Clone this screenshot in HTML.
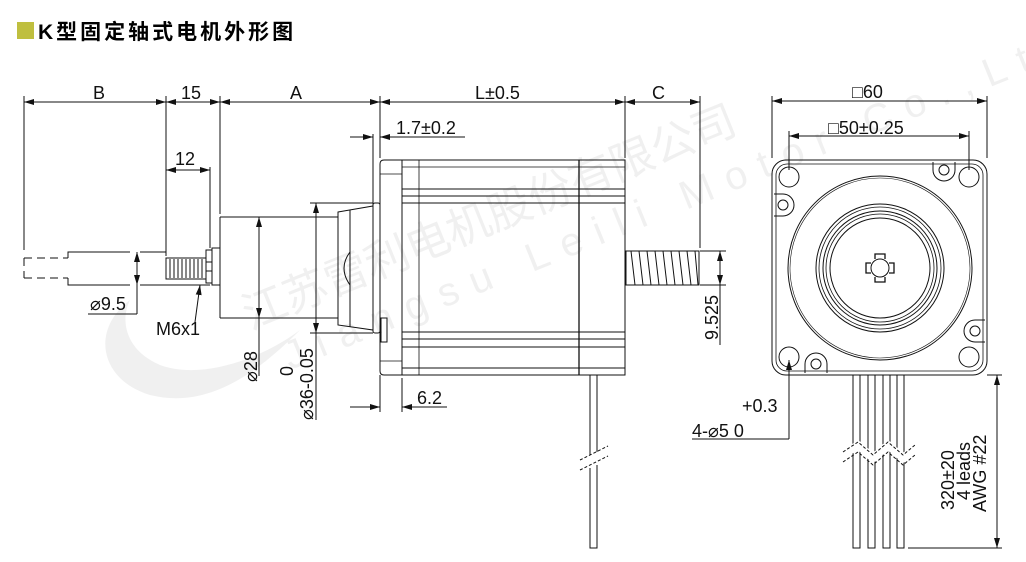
<!DOCTYPE html>
<html><head><meta charset="utf-8"><style>
html,body{margin:0;padding:0;background:#fff;}
svg{display:block;}
text{font-family:"Liberation Sans","Noto Sans CJK SC",sans-serif;fill:#111;}
</style></head><body>
<svg width="1026" height="562" viewBox="0 0 1026 562" xmlns="http://www.w3.org/2000/svg">
<defs>
<marker id="a" viewBox="0 0 10 6" refX="10" refY="3" markerWidth="10" markerHeight="6" markerUnits="userSpaceOnUse" orient="auto-start-reverse"><path d="M0,0L10,3L0,6z" fill="#111"/></marker>
</defs>
<!-- watermark -->
<g opacity="0.09">
<path d="M130,300 C90,330 100,380 150,395 C210,410 260,370 300,330 C260,360 200,380 160,365 C125,350 120,320 130,300z" fill="#555"/>
<text x="250" y="330" font-size="44" transform="rotate(-22 250 330)" style="fill:#555">江苏雷利电机股份有限公司</text>
<text x="290" y="370" font-size="40" letter-spacing="14" transform="rotate(-22 290 370)" style="fill:#555">Jiangsu Leili Motor Co.,Ltd</text>
</g>
<!-- title -->
<rect x="17" y="22" width="17" height="17" fill="#bfbf3f"/>
<text x="38" y="39" font-size="21" font-weight="bold" letter-spacing="3" style="fill:#000">K型固定轴式电机外形图</text>

<g stroke="#111" stroke-width="1" fill="none">
<line x1="24" y1="96" x2="24" y2="250"/>
<line x1="166" y1="96" x2="166" y2="256"/>
<line x1="220" y1="96" x2="220" y2="214"/>
<line x1="380" y1="96" x2="380" y2="158"/>
<line x1="625" y1="96" x2="625" y2="158"/>
<line x1="700" y1="96" x2="700" y2="248"/>
<line x1="210" y1="167" x2="210" y2="248"/>
<line x1="24" y1="102" x2="700" y2="102"/>
<line x1="24" y1="102" x2="166" y2="102" marker-start="url(#a)" marker-end="url(#a)"/>
<line x1="166" y1="102" x2="220" y2="102" marker-start="url(#a)" marker-end="url(#a)"/>
<line x1="220" y1="102" x2="380" y2="102" marker-start="url(#a)" marker-end="url(#a)"/>
<line x1="380" y1="102" x2="625" y2="102" marker-start="url(#a)" marker-end="url(#a)"/>
<line x1="625" y1="102" x2="700" y2="102" marker-start="url(#a)" marker-end="url(#a)"/>
<line x1="166" y1="170" x2="210" y2="170" marker-start="url(#a)" marker-end="url(#a)"/>
<line x1="373" y1="134" x2="373" y2="205"/>
<line x1="350" y1="137" x2="373" y2="137" marker-end="url(#a)"/>
<line x1="405" y1="137" x2="380" y2="137" marker-end="url(#a)"/>
<line x1="380" y1="137" x2="465" y2="137"/>
<line x1="380" y1="375" x2="380" y2="412"/>
<line x1="402" y1="378" x2="402" y2="412"/>
<line x1="350" y1="407" x2="380" y2="407" marker-end="url(#a)"/>
<line x1="430" y1="407" x2="402" y2="407" marker-end="url(#a)"/>
<line x1="402" y1="407" x2="447" y2="407"/>

<path d="M24,258 H68 M24,278 H68 M24,258 V278" stroke-dasharray="8,5"/>
<path d="M68,258 V252 H130 M68,278 V285 H130"/>
<path d="M140,252 H166 M140,285 H210"/>
<line x1="137" y1="252" x2="137" y2="285" marker-start="url(#a)" marker-end="url(#a)"/>
<line x1="137" y1="285" x2="137" y2="314"/>
<line x1="88" y1="314" x2="137" y2="314"/>
<rect x="166" y="258" width="40" height="21"/>
<path d="M170,259v19M174,259v19M178,259v19M182,259v19M186,259v19M190,259v19M194,259v19M198,259v19M202,259v19"/>
<rect x="206" y="250" width="6" height="33"/>
<line x1="206" y1="262" x2="212" y2="262"/><line x1="206" y1="271" x2="212" y2="271"/>
<rect x="212" y="248" width="8" height="37"/>
<line x1="200" y1="285" x2="195" y2="322" marker-start="url(#a)"/>
<path d="M220,217 H338 M220,318 H338 M220,217 V318"/>
<line x1="259" y1="217" x2="259" y2="318" marker-start="url(#a)" marker-end="url(#a)"/>
<line x1="259" y1="318" x2="259" y2="376"/>
<path d="M338,212 L373,206 L373,330 L338,325 Z"/>
<path d="M338,212 V325 M350,210 V327"/>
<path d="M350,252 Q338,268 350,285"/>
<rect x="373" y="203" width="7" height="130" rx="2"/>
<line x1="316" y1="203" x2="316" y2="333" marker-start="url(#a)" marker-end="url(#a)"/>
<line x1="310" y1="203" x2="373" y2="203"/>
<line x1="310" y1="333" x2="373" y2="333"/>
<line x1="316" y1="333" x2="316" y2="420"/>
<path d="M384,160 H625 V375 H384 Q380,375 380,371 V164 Q380,160 384,160 Z"/>
<line x1="402" y1="160" x2="402" y2="375"/>
<line x1="419" y1="160" x2="419" y2="375" stroke-width="0.8"/>
<line x1="579" y1="160" x2="579" y2="375" stroke-width="1.3"/>
<line x1="402" y1="167" x2="625" y2="167" stroke-width="0.8"/>
<line x1="402" y1="189" x2="625" y2="189"/>
<line x1="402" y1="196" x2="625" y2="196"/>
<line x1="402" y1="203" x2="625" y2="203"/>
<line x1="402" y1="332" x2="625" y2="332"/>
<line x1="402" y1="339" x2="625" y2="339"/>
<line x1="402" y1="347" x2="625" y2="347"/>
<line x1="402" y1="368" x2="625" y2="368"/>
<line x1="380" y1="174" x2="402" y2="174" stroke-width="0.8"/>
<line x1="380" y1="361" x2="402" y2="361" stroke-width="0.8"/>
<rect x="381" y="318" width="6" height="24"/>
<path d="M590,375 V455 M597,375 V452 M590,468 V548 H597 V465"/>
<path d="M580,460 L608,446 M580,470 L608,456" stroke-dasharray="3,2"/>
<rect x="626" y="251" width="73" height="34"/>
<path d="M631,251 l4,34 M639,251 l4,34 M647,251 l4,34 M655,251 l4,34 M663,251 l4,34 M671,251 l4,34 M679,251 l4,34 M687,251 l4,34 M695,251 l3,34"/>
<line x1="700" y1="251" x2="726" y2="251"/>
<line x1="700" y1="285" x2="726" y2="285"/>
<line x1="720" y1="251" x2="720" y2="285" marker-start="url(#a)" marker-end="url(#a)"/>
<line x1="720" y1="285" x2="720" y2="345"/>

<line x1="772" y1="96" x2="772" y2="158"/>
<line x1="987" y1="96" x2="987" y2="158"/>
<line x1="772" y1="101" x2="987" y2="101" marker-start="url(#a)" marker-end="url(#a)"/>
<line x1="789" y1="131" x2="789" y2="170"/>
<line x1="969" y1="131" x2="969" y2="170"/>
<line x1="789" y1="136" x2="969" y2="136" marker-start="url(#a)" marker-end="url(#a)"/>
<rect x="772" y="160" width="215" height="215" rx="14"/>
<rect x="776" y="164" width="207" height="207" rx="11" stroke-width="0.8"/>
<circle cx="789" cy="177" r="10"/><circle cx="969" cy="177" r="10"/>
<circle cx="789" cy="357" r="10"/><circle cx="969" cy="357" r="10"/>
<path d="M933,162 V170 A11,11 0 0 0 955,170 V162"/><circle cx="944" cy="170" r="5"/>
<path d="M774,194 H783 A11,11 0 0 1 783,216 H774"/><circle cx="783" cy="205" r="5"/>
<path d="M985,320 H975 A11,11 0 0 0 975,342 H985"/><circle cx="975" cy="331" r="5"/>
<path d="M805,373 V364 A11,11 0 0 1 827,364 V373"/><circle cx="816" cy="364" r="5"/>
<circle cx="880" cy="268" r="92"/>
<circle cx="880" cy="268" r="90" stroke-width="0.6"/>
<circle cx="880" cy="268" r="64"/>
<circle cx="880" cy="268" r="61" stroke-width="0.8"/>
<circle cx="880" cy="268" r="57"/>
<circle cx="880" cy="268" r="54" stroke-width="0.8"/>
<circle cx="880" cy="268" r="50"/>
<circle cx="880" cy="268" r="9"/>
<path d="M875,259 V254 H885 V259 M889,263 H894 V273 H889 M885,277 V282 H875 V277 M871,273 H866 V263 H871" stroke-width="1.3"/>
<path d="M853,375V548H860V375 M868,375V548H875V375 M883,375V548H890V375 M897,375V548H904V375"/>
<path d="M843,455 L858,445 L873,458 L888,445 L903,458 L915,448" stroke="#fff" stroke-width="8"/>
<path d="M843,452 L858,442 L873,455 L888,442 L903,455 L915,445 M843,462 L858,452 L873,465 L888,452 L903,465 L915,455" stroke-dasharray="3,2"/>
<line x1="987" y1="375" x2="1002" y2="375"/>
<line x1="908" y1="548" x2="1002" y2="548"/>
<line x1="997" y1="375" x2="997" y2="548" marker-start="url(#a)" marker-end="url(#a)"/>
<line x1="789" y1="439" x2="789" y2="360" marker-end="url(#a)"/>
<line x1="692" y1="439" x2="789" y2="439"/>
</g>

<g font-size="18">
<text x="93" y="99">B</text>
<text x="181" y="99">15</text>
<text x="290" y="99">A</text>
<text x="475" y="99">L±0.5</text>
<text x="652" y="99">C</text>
<text x="175" y="165">12</text>
<text x="396" y="134">1.7±0.2</text>
<text x="417" y="404">6.2</text>
<text x="90" y="310">⌀9.5</text>
<text x="156" y="335">M6x1</text>
<text transform="translate(257,382) rotate(-90)">⌀28</text>
<text transform="translate(313,420) rotate(-90)">⌀36-0.05</text>
<text transform="translate(293,376) rotate(-90)">0</text>
<text transform="translate(718,340) rotate(-90)">9.525</text>
<text x="852" y="98">□60</text>
<text x="828" y="134">□50±0.25</text>
<text x="742" y="412">+0.3</text>
<text x="692" y="437">4-⌀5  0</text>
<text transform="translate(954,510) rotate(-90)">320±20</text>
<text transform="translate(970,500) rotate(-90)">4 leads</text>
<text transform="translate(986,512) rotate(-90)">AWG #22</text>
</g>
</svg>
</body></html>
